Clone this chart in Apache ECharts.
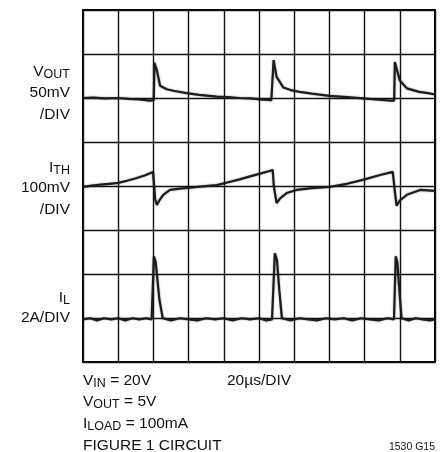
<!DOCTYPE html>
<html>
<head>
<meta charset="utf-8">
<title>1530 G15</title>
<script src="https://cdn.jsdelivr.net/npm/echarts@6/dist/echarts.min.js"></script>
<style>
  html, body { margin: 0; padding: 0; background: #fff; }
  #chart { width: 443px; height: 452px; }
</style>
</head>
<body>
<div id="chart"></div>
<script>
// time in µs (20µs/DIV), values in each channel's own unit
const vout = [ // mV, 50mV/DIV
  [0, 0], [6, 0.5], [12, -0.5], [20, 0], [26, -1], [32, -1.5], [38, -3], [40.2, -2.5],
  [40.6, 40], [41.9, 32], [43.8, 14], [47.6, 10], [52, 8], [58.9, 5.5], [66, 3.5], [76, 1.5],
  [82, 1], [89, 0], [95, -0.5], [100.6, -1.5], [107, -2.5], [108, -3],
  [108.3, 43], [110, 24], [113.8, 12], [118, 9], [123, 7], [130, 5], [140, 2.5], [150, 1],
  [159, -0.5], [168, -2], [175, -3], [176.8, -3],
  [177.2, 41], [180, 20], [184, 11], [191, 7], [196, 5.5], [200, 4]
];
const ith = [ // mV, 100mV/DIV
  [0, -2], [5, 1], [10, 3], [15, 5], [20, 7], [25, 12], [29.6, 17], [35, 24], [39.8, 32], [40.4, 33],
  [41, -30], [42, -43], [43.5, -32], [45.6, -20], [49.4, -9], [55, -6], [60.8, -4], [68, -1], [76, 2],
  [82, 8], [89, 15], [95, 22], [100.6, 28], [105, 33], [107.8, 36],
  [108.4, 0], [110, -39], [112, -28], [115.7, -16], [121.4, -9], [130, -5], [140.3, -2],
  [150, 5], [159, 14], [168.8, 25], [176, 32], [176.8, 33],
  [177.4, -20], [178.2, -45], [180, -33], [184, -20], [191.5, -9], [196, -10], [200, -11]
];
const il = [ // A, 2A/DIV
  [0, 0], [4, 0.05], [8, -0.05], [12, 0.05], [16, 0], [20, 0.05], [24, -0.05], [28, 0.05],
  [32, 0], [36, 0.05], [39, 0],
  [40.3, 2.86], [41.3, 2.6], [43.4, 0.9], [45.3, 0.05],
  [50, -0.05], [55, 0.05], [60, 0], [65, -0.05], [70, 0.05], [75, 0], [80, 0.05], [85, -0.05],
  [90, 0.05], [95, 0], [100, 0.05], [104, -0.05], [107.4, 0],
  [109, 3.0], [110.2, 2.7], [111.5, 1.36], [113, 0.05],
  [118, -0.05], [123, 0.05], [128, 0], [133, -0.05], [138, 0.05], [143, 0], [148, 0.05],
  [153, -0.05], [158, 0.05], [163, 0], [168, -0.05], [173, 0.05], [176.7, 0],
  [177.7, 2.86], [178.6, 2.6], [180, 1.05], [181, 0.05],
  [185, -0.05], [189, 0.05], [193, 0], [197, -0.05], [200, 0]
];

// channel positions on the screen (divisions from bottom) and scale per division
const voutCenter = 6, voutPerDiv = 50;
const ithCenter = 4, ithPerDiv = 100;
const ilZero = 0.97, ilPerDiv = 2;

const fontFamily = '"Liberation Sans", Arial, sans-serif';
const mainFont = '15.5px ' + fontFamily;
const subFont = '12.5px ' + fontFamily;
const textColor = '#111';
const traceColor = '#1c1c1c';

const toDiv = (data, center, perDiv) => data.map(([t, v]) => [t, center + v / perDiv]);

const traceSeries = (data) => ({
  type: 'line',
  data: data,
  showSymbol: false,
  silent: true,
  lineStyle: { color: traceColor, width: 2.2, shadowBlur: 2, shadowColor: 'rgba(0,0,0,0.4)' }
});

// text with subscripts: parts are [text, isSub]; pieces are laid out side by side
const measureCtx = document.createElement('canvas').getContext('2d');
const textWidth = (text, font) => {
  measureCtx.font = font;
  return measureCtx.measureText(text).width;
};
const label = (parts, x, y, align) => {
  const widths = parts.map(([t, sub]) => textWidth(t, sub ? subFont : mainFont));
  const total = widths.reduce((a, b) => a + b, 0);
  let cx = align === 'left' ? x : x - total;
  return parts.map(([t, sub], i) => {
    const el = {
      type: 'text', x: cx, y: sub ? y + 3 : y, silent: true,
      style: { text: t, font: sub ? subFont : mainFont, fill: textColor, align: 'left', verticalAlign: 'middle' }
    };
    cx += widths[i];
    return el;
  });
};

const chart = echarts.init(document.getElementById('chart'), null, { renderer: 'canvas' });
chart.setOption({
  animation: false,
  backgroundColor: '#fff',
  grid: { left: 83, right: 8, top: 10, bottom: 90, show: true, borderColor: '#000', borderWidth: 2, backgroundColor: 'transparent' },
  xAxis: {
    type: 'value', min: 0, max: 200, interval: 20,
    axisLabel: { show: false }, axisTick: { show: false }, axisLine: { show: false },
    splitLine: { show: true, lineStyle: { color: '#111', width: 1.4 } }
  },
  yAxis: {
    type: 'value', min: 0, max: 8, interval: 1,
    axisLabel: { show: false }, axisTick: { show: false }, axisLine: { show: false },
    splitLine: { show: true, lineStyle: { color: '#111', width: 1.4 } }
  },
  series: [
    traceSeries(toDiv(vout, voutCenter, voutPerDiv)),
    traceSeries(toDiv(ith, ithCenter, ithPerDiv)),
    traceSeries(toDiv(il, ilZero, ilPerDiv))
  ],
  graphic: [].concat(
    label([['V'], ['OUT', true]], 70, 71.5),
    label([['50mV']], 70, 93),
    label([['/DIV']], 70, 114.5),
    label([['I'], ['TH', true]], 70, 168),
    label([['100mV']], 70, 187.5),
    label([['/DIV']], 70, 209.5),
    label([['I'], ['L', true]], 70, 298),
    label([['2A/DIV']], 70, 317.5),
    label([['V'], ['IN', true], [' = 20V']], 83, 380.5, 'left'),
    label([['20µs/DIV']], 227, 380.5, 'left'),
    label([['V'], ['OUT', true], [' = 5V']], 83, 402, 'left'),
    label([['I'], ['LOAD', true], [' = 100mA']], 83, 424, 'left'),
    label([['FIGURE 1 CIRCUIT']], 83, 446, 'left'),
    [{
      type: 'text', x: 435, y: 447, silent: true,
      style: { text: '1530 G15', font: '10.5px ' + fontFamily, fill: textColor, align: 'right', verticalAlign: 'middle' }
    }]
  )
});
</script>
</body>
</html>
